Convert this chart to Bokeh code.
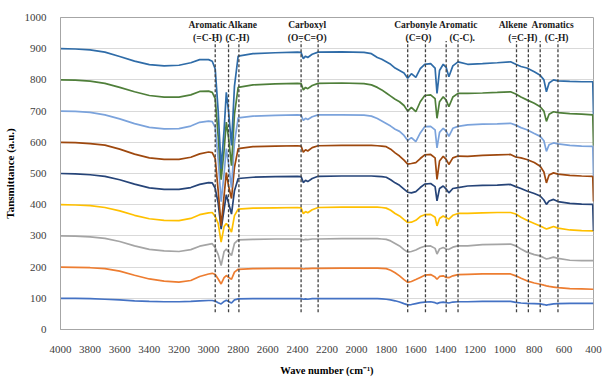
from bokeh.plotting import figure
from bokeh.models import Range1d, FixedTicker, Label
from bokeh.embed import file_html
from bokeh.resources import INLINE

# Shared wavenumber grid (cm-1), high to low
wavenumber = [
    4000, 3900, 3800, 3700, 3600, 3500, 3400, 3300, 3200, 3120, 3060, 3000,
    2975, 2955, 2935, 2915, 2895, 2880, 2865, 2845, 2825, 2800,
    2700, 2550, 2400, 2375, 2360, 2345, 2330, 2300, 2260, 2100, 1950,
    1900, 1860, 1830, 1800, 1770, 1740, 1710, 1680, 1655, 1630, 1600, 1570, 1540,
    1500, 1470, 1457, 1440, 1415, 1395, 1377, 1350, 1315,
    1250, 1150, 1050, 960, 925, 890, 850, 800, 760, 735, 718, 700, 670, 640, 560, 480, 405, 400,
]

# Offset transmittance spectra, a (bottom) to i (top)
sample_a = [
    100, 100, 99, 97, 95, 92, 90, 89, 89, 90, 92, 93,
    93, 91, 86, 82, 90, 94, 90, 85, 95, 98,
    99, 99, 99, 99, 97, 98, 97, 99, 99, 99, 99,
    99, 99, 98, 97, 95, 92, 88, 83, 79, 80, 83, 86, 88,
    89, 86, 83, 86, 88, 86, 85, 88, 89,
    89, 90, 90, 90, 87, 85, 84, 83, 82, 80, 78, 80, 82, 83, 84, 84, 84, 84,
]
sample_b = [
    200, 199, 198, 195, 187, 174, 162, 155, 152, 157, 170, 178,
    180, 176, 162, 146, 166, 173, 167, 161, 184, 193,
    195, 196, 196, 196, 194, 195, 195, 196, 196, 197, 197,
    197, 197, 196, 195, 190, 182, 172, 160, 151, 154, 160, 167, 174,
    176, 168, 161, 170, 172, 167, 166, 172, 176,
    177, 178, 178, 178, 172, 164, 156, 149, 145, 142, 140, 138, 136, 134, 131, 130, 129, 129,
]
sample_c = [
    300, 299, 297, 292, 282, 268, 257, 252, 250, 256, 267, 273,
    275, 262, 240, 205, 250, 258, 248, 237, 276, 287,
    289, 290, 290, 290, 287, 289, 288, 290, 290, 291, 291,
    291, 291, 290, 289, 284, 276, 268, 256, 248, 250, 255, 262, 267,
    268, 260, 242, 258, 263, 258, 257, 264, 268,
    268, 272, 273, 274, 268, 258, 248, 240, 236, 230, 226, 228, 232, 228, 222, 221, 221, 221,
]
sample_d = [
    400, 399, 397, 391, 380, 366, 355, 350, 349, 356, 368, 374,
    375, 362, 340, 280, 330, 340, 330, 312, 365, 386,
    389, 390, 391, 390, 371, 378, 374, 384, 391, 392, 392,
    392, 392, 391, 389, 382, 372, 364, 352, 343, 344, 350, 362, 368,
    369, 360, 332, 356, 364, 358, 354, 366, 372,
    372, 374, 375, 375, 370, 360, 350, 340, 332, 326, 322, 325, 330, 325, 319, 317, 316, 316,
]
sample_e = [
    500, 499, 496, 491, 480, 466, 454, 449, 449, 455, 465, 471,
    470, 452, 405, 322, 385, 432, 405, 370, 445, 484,
    488, 490, 491, 490, 471, 478, 474, 484, 491, 492, 492,
    492, 491, 490, 488, 480, 470, 462, 450, 440, 438, 442, 455, 466,
    468, 458, 412, 452, 460, 450, 438, 452, 455,
    460, 462, 463, 465, 458, 452, 444, 436, 428, 415, 401, 412, 417, 410, 404, 402, 401, 316,
]
sample_f = [
    600, 599, 596, 591, 578, 562, 550, 545, 545, 552, 563, 569,
    567, 548, 445, 332, 430, 503, 460, 420, 520, 580,
    586, 588, 589, 588, 568, 576, 572, 583, 589, 590, 590,
    590, 589, 588, 586, 578, 566, 556, 543, 530, 532, 535, 548, 560,
    561, 550, 481, 540, 555, 545, 529, 550, 556,
    555, 558, 560, 561, 553, 550, 545, 535, 523, 505, 470, 495, 502, 498, 494, 492, 491, 410,
]
sample_g = [
    700, 699, 696, 688, 675, 660, 648, 643, 644, 652, 664, 668,
    666, 648, 545, 410, 500, 580, 530, 455, 600, 678,
    684, 686, 688, 687, 670, 677, 673, 682, 688, 688, 687,
    684, 676, 668, 660, 652, 642, 635, 622, 606, 615, 602, 630, 650,
    651, 640, 582, 632, 645, 636, 619, 645, 651,
    656, 658, 659, 661, 655, 647, 640, 628, 619, 605, 571, 592, 598, 595, 590, 588, 587, 492,
]
sample_h = [
    800, 799, 796, 789, 776, 762, 750, 745, 745, 752, 763, 764,
    760, 740, 620, 480, 575, 665, 615, 525, 690, 776,
    784, 787, 789, 788, 768, 776, 772, 782, 789, 790, 788,
    784, 776, 768, 758, 748, 738, 730, 718, 700, 712, 698, 730, 750,
    752, 740, 677, 730, 746, 735, 714, 745, 757,
    757, 758, 760, 762, 755, 745, 736, 725, 714, 700, 667, 690, 698, 695, 692, 690, 688, 590,
]
sample_i = [
    900, 899, 896, 889, 875, 860, 849, 845, 847, 855, 865, 865,
    860, 835, 700, 515, 640, 760, 700, 590, 780, 876,
    884, 887, 889, 888, 868, 876, 872, 882, 889, 890, 888,
    884, 872, 866, 858, 850, 838, 830, 822, 805, 820, 808, 836, 850,
    852, 838, 757, 830, 850, 840, 810, 845, 858,
    850, 852, 855, 858, 850, 843, 838, 826, 815, 800, 762, 790, 800, 797, 795, 794, 794, 690,
]

series = [sample_a, sample_b, sample_c, sample_d, sample_e,
          sample_f, sample_g, sample_h, sample_i]
colors = ["#4472C4", "#ED7D31", "#A5A5A5", "#FFC000", "#264478",
          "#9E480E", "#7BA3DC", "#4F7F3A", "#2F6CA8"]

# Band assignment markers (cm-1)
band_lines = [2955, 2865, 2795, 2375, 2260, 1655, 1535, 1395, 1315, 920, 840, 760, 640]
band_line_top = 925
band_line_bottom = 55

# Band labels: (text, wavenumber, height)
band_labels = [
    ("Aromatic", 3006, 975), ("(=C-H)", 3006, 933),
    ("Alkane", 2771, 975), ("(C-H)", 2805, 933),
    ("Carboxyl", 2334, 975), ("(O=C=O)", 2334, 933),
    ("Carbonyle", 1602, 975), ("(C=O)", 1582, 933),
    ("Aromatic", 1314, 975), ("(C-C).", 1287, 933),
    ("Alkene", 944, 975), ("(=C-H)", 877, 933),
    ("Aromatics", 676, 975), ("(C-H)", 649, 933),
]

x_ticks = list(range(4000, 399, -200))
y_ticks = list(range(0, 1001, 100))

p = figure(width=606, height=378,
           x_range=Range1d(4000, 400), y_range=Range1d(0, 1000),
           output_backend="svg", toolbar_location=None,
           min_border_left=57, min_border_right=13,
           min_border_top=17, min_border_bottom=45)

p.background_fill_color = "white"
p.border_fill_color = "white"
p.outline_line_color = "#a6a6a6"
p.xgrid.grid_line_color = None
p.ygrid.grid_line_color = "#d9d9d9"
p.ygrid.grid_line_width = 1

serif = "Liberation Serif"
p.xaxis.ticker = FixedTicker(ticks=x_ticks)
p.yaxis.ticker = FixedTicker(ticks=y_ticks)
for ax in (p.xaxis[0], p.yaxis[0]):
    ax.major_tick_line_color = None
    ax.minor_tick_line_color = None
    ax.axis_line_color = "#a6a6a6"
    ax.major_label_text_font = serif
    ax.major_label_text_font_size = "11px"
    ax.major_label_text_color = "#404040"
    ax.axis_label_text_font = serif
    ax.axis_label_text_font_style = "bold"
    ax.axis_label_text_color = "#000000"

p.xaxis.major_label_standoff = 10
p.yaxis.major_label_standoff = 8
p.xaxis.axis_label = "Wave number (cm\u207b\u00b9)"
p.xaxis.axis_label_text_font_size = "10.5px"
p.xaxis.axis_label_standoff = 9
p.yaxis.axis_label = "Tansmittance (a.u.)"
p.yaxis.axis_label_text_font_size = "11px"
p.yaxis.axis_label_standoff = 6

for vals, col in zip(series, colors):
    p.line(wavenumber, vals, line_color=col, line_width=1.7)

p.segment(x0=band_lines, y0=[band_line_bottom] * len(band_lines),
          x1=band_lines, y1=[band_line_top] * len(band_lines),
          line_color="#404040", line_width=1.3, line_dash="3 2")

for txt, wn, h in band_labels:
    p.add_layout(Label(x=wn, y=h, text=txt, text_align="center",
                       text_baseline="middle", text_font=serif,
                       text_font_style="bold", text_font_size="9.5px",
                       text_color="#1a1a1a"))

open("out.html", "w").write(file_html(p, INLINE))
